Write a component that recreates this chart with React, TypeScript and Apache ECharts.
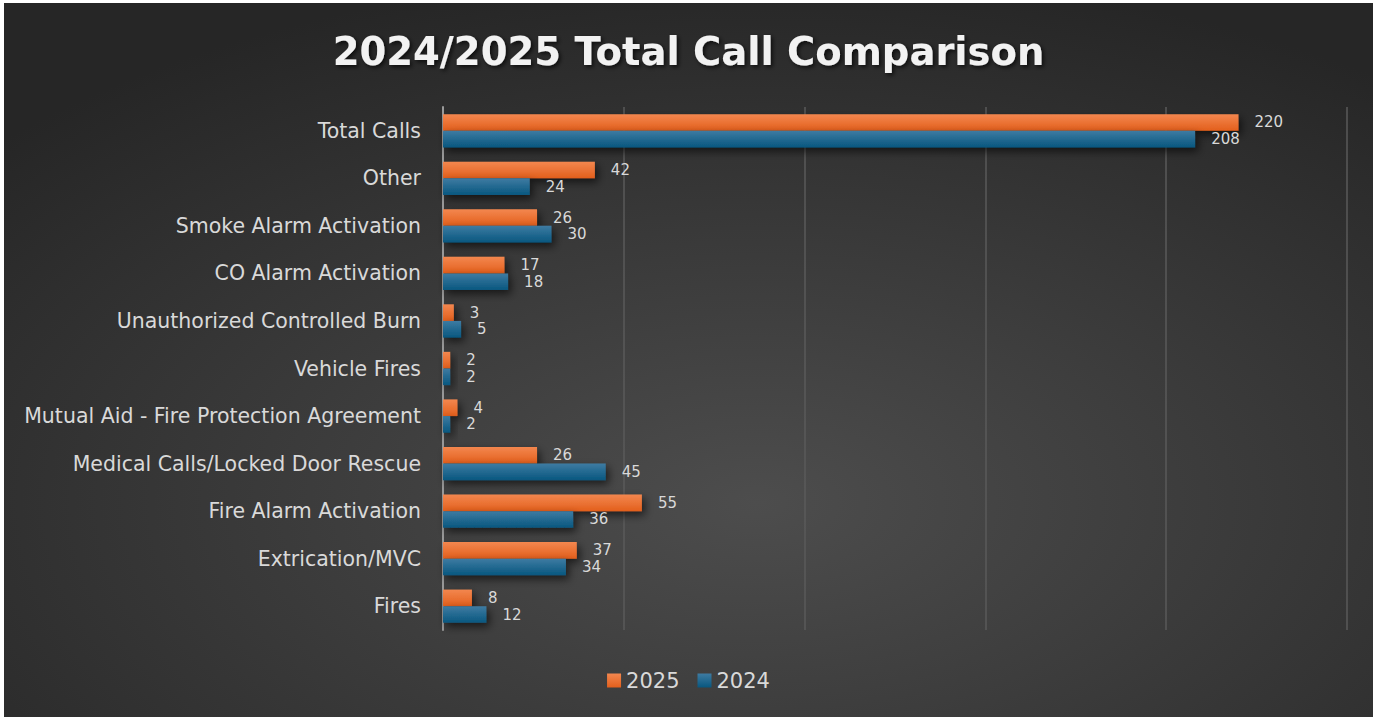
import React, { useEffect, useRef } from "react";
import * as echarts from "echarts";

const categories = [
  "Fires",
  "Extrication/MVC",
  "Fire Alarm Activation",
  "Medical Calls/Locked Door Rescue",
  "Mutual Aid - Fire Protection Agreement",
  "Vehicle Fires",
  "Unauthorized Controlled Burn",
  "CO Alarm Activation",
  "Smoke Alarm Activation",
  "Other",
  "Total Calls",
];
const values2025 = [8, 37, 55, 26, 4, 2, 3, 17, 26, 42, 220];
const values2024 = [12, 34, 36, 45, 2, 2, 5, 18, 30, 24, 208];
const titleText = "2024/2025 Total Call Comparison";

export default function App() {
  const ref = useRef<HTMLDivElement>(null);
  useEffect(() => {
    if (!ref.current) return;
    const chart = echarts.init(ref.current, undefined, { renderer: "svg" });
    const labelStyle = {
      show: true,
      position: "right" as const,
      distance: 16,
      color: "#d9d9d9",
      fontSize: 15,
      fontFamily: "DejaVu Sans",
    };
    const shadow = {
      shadowColor: "rgba(0,0,0,0.6)",
      shadowBlur: 8,
      shadowOffsetX: 3,
      shadowOffsetY: 4,
    };
    chart.setOption({
      animation: false,
      backgroundColor: {
        type: "radial",
        x: 0.55,
        y: 0.7,
        r: 0.75,
        colorStops: [
          { offset: 0, color: "#4d4d4d" },
          { offset: 1, color: "#262626" },
        ],
      },
      title: {
        text: titleText,
        left: "center",
        top: 24,
        textStyle: {
          color: "#f2f2f2",
          fontSize: 38.5,
          fontWeight: "bold",
          fontFamily: "DejaVu Sans",
          textShadowColor: "rgba(0,0,0,0.7)",
          textShadowBlur: 4,
          textShadowOffsetX: 2,
          textShadowOffsetY: 2,
        },
      },
      legend: {
        bottom: 21,
        left: "center",
        itemWidth: 14,
        itemHeight: 14,
        itemGap: 18,
        itemTextGap: 4,
        icon: "rect",
        textStyle: { color: "#d9d9d9", fontSize: 21, fontFamily: "DejaVu Sans" },
        data: ["2025", "2024"],
      },
      grid: { left: 439, right: 26, top: 104, bottom: 87 },
      xAxis: {
        type: "value",
        min: 0,
        max: 250,
        interval: 50,
        axisLabel: { show: false },
        axisLine: { show: false },
        axisTick: { show: false },
        splitLine: { show: true, lineStyle: { color: "#5a5a5a", width: 1.5 } },
      },
      yAxis: {
        type: "category",
        data: categories,
        axisTick: { show: false },
        axisLine: { show: true, lineStyle: { color: "#9a9a9a", width: 2 } },
        axisLabel: {
          color: "#d9d9d9",
          fontSize: 20.5,
          fontFamily: "DejaVu Sans",
          margin: 22,
        },
      },
      series: [
        {
          name: "2025",
          type: "bar",
          data: values2025,
          barGap: "0%",
          barCategoryGap: "30%",
          itemStyle: {
            color: {
              type: "linear",
              x: 0,
              y: 0,
              x2: 0,
              y2: 1,
              colorStops: [
                { offset: 0, color: "#f3874f" },
                { offset: 1, color: "#e35f1c" },
              ],
            },
            ...shadow,
          },
          label: { ...labelStyle },
        },
        {
          name: "2024",
          type: "bar",
          data: values2024,
          itemStyle: {
            color: {
              type: "linear",
              x: 0,
              y: 0,
              x2: 0,
              y2: 1,
              colorStops: [
                { offset: 0, color: "#3e7ba2" },
                { offset: 1, color: "#08577f" },
              ],
            },
            ...shadow,
          },
          label: { ...labelStyle },
        },
      ],
    });
    return () => chart.dispose();
  }, []);
  return (
    <div
      ref={ref}
      style={{ position: "absolute", left: 4, top: 3, width: 1369, height: 714 }}
    />
  );
}
